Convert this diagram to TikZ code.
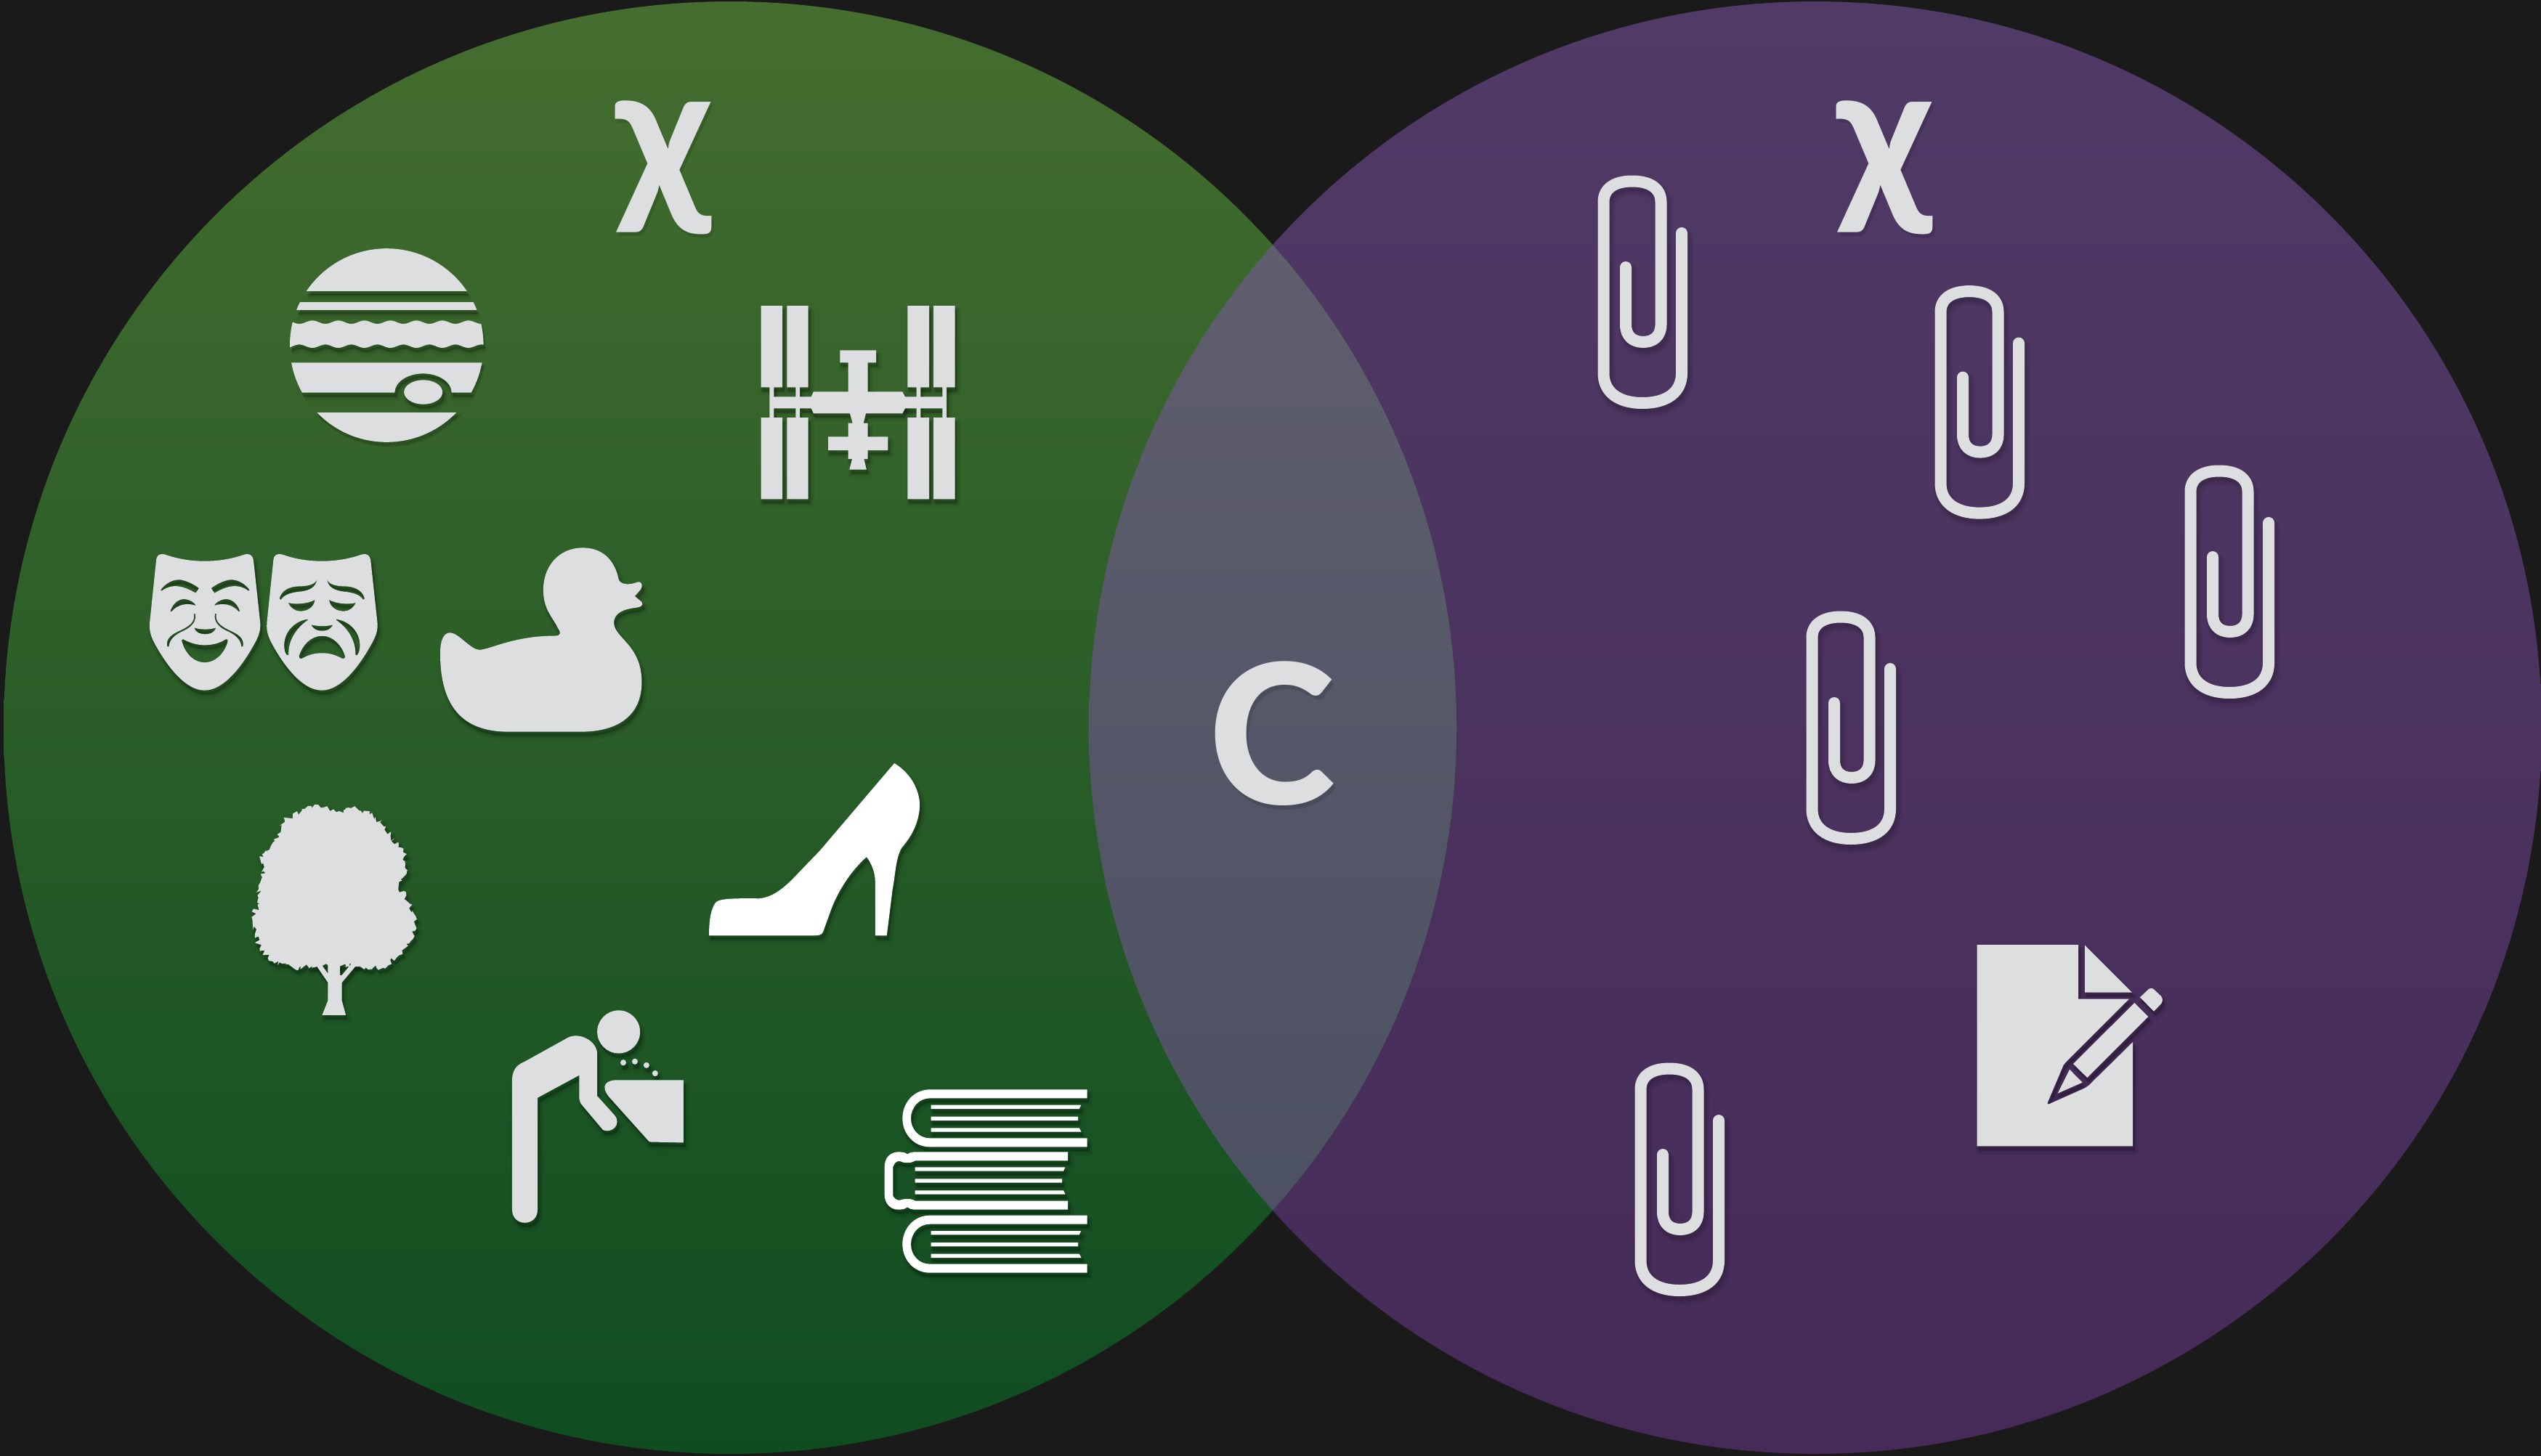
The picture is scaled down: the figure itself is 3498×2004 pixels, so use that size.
\documentclass[tikz,border=0pt]{standalone}
\usepackage{fontspec}
\newfontfamily\carlito{Carlito}
\usetikzlibrary{decorations.pathmorphing}
\definecolor{bgc}{HTML}{1A1A1A}
\definecolor{gtop}{HTML}{456D2F}
\definecolor{gbot}{HTML}{0F4D21}
\definecolor{ptop}{HTML}{503A66}
\definecolor{pbot}{HTML}{462B58}
\definecolor{ltop}{HTML}{636170}
\definecolor{lbot}{HTML}{484E60}
\definecolor{iconc}{HTML}{DCDEE0}
\tikzset{
  inkfill/.style={fill=iconc},
  inkline/.style={draw=iconc,line width=8pt},
  clipline/.style={inkline,line cap=round,line join=round},
  bigtext/.style={inner sep=0pt,text=iconc,xscale=1.07,font=\carlito\bfseries\fontsize{140}{140}\selectfont},
  bigcee/.style={inner sep=0pt,text=iconc,xscale=1.09,font=\carlito\bfseries\fontsize{150}{150}\selectfont},
}
\newcommand\iconshape[2][iconc]{%
  \begin{scope}[shift={(3,7)},
    inkfill/.style={fill=black,draw=black,opacity=.045,line width=5pt,line join=round},
    inkline/.style={draw=black,opacity=.045,line width=13pt}]#2\end{scope}%
  \begin{scope}[shift={(3,6)},
    inkfill/.style={fill=black,draw=black,opacity=.06,line width=3pt,line join=round},
    inkline/.style={draw=black,opacity=.06,line width=11pt}]#2\end{scope}%
  \begin{scope}[shift={(2,5)},
    inkfill/.style={fill=black,draw=black,opacity=.09,line width=1.2pt,line join=round},
    inkline/.style={draw=black,opacity=.09,line width=9pt}]#2\end{scope}%
  \begin{scope}[inkfill/.style={fill=#1},inkline/.style={draw=#1,line width=8pt}]#2\end{scope}%
}
\newcommand\paperclip[1]{%
  \iconshape{\begin{scope}[shift={#1}]
    \path[clipline] (38,126) -- (38,205) .. controls (38,221) and (48,229) .. (62,229)
      .. controls (76,229) and (86.5,221) .. (86.5,205) -- (86.5,36)
      .. controls (86.5,18) and (72,7.5) .. (47,7.5) .. controls (22,7.5) and (7.5,18) .. (7.5,36)
      -- (7.5,272) .. controls (7.5,298) and (28,313) .. (61,313)
      .. controls (95,313) and (115,298) .. (115,272) -- (115,79);
  \end{scope}}%
}
\newcommand\maskoutline{(105,125) .. controls (105,105) and (120,95) .. (140,100)
  .. controls (195,120) and (250,128) .. (305,128) .. controls (360,128) and (415,120) .. (472,100)
  .. controls (490,95) and (505,105) .. (507,125) -- (535,385)
  .. controls (537,420) and (525,445) .. (505,480) .. controls (460,560) and (385,662) .. (305,662)
  .. controls (225,662) and (150,560) .. (105,480) .. controls (85,445) and (76,420) .. (78,385) -- cycle}
\newcommand\bookpages{(305,215) -- (925,215) -- (917,231) -- (305,231) -- cycle
  (305,263) -- (912,263) -- (912,279) -- (305,279) -- cycle
  (305,310) -- (917,310) -- (926,326) -- (305,326) -- cycle}
\newcommand\bookcover{(950,151) -- (300,151) .. controls (235,151) and (187,205) .. (187,270)
  .. controls (187,335) and (235,388) .. (300,388) -- (950,388) -- (950,352) -- (300,352)
  .. controls (255,352) and (222,315) .. (222,270) .. controls (222,225) and (255,187) .. (300,187)
  -- (950,187) -- cycle}
\begin{document}
\begin{tikzpicture}[x=.5pt,y=-.5pt]
\useasboundingbox (0,0) rectangle (3498,2004);
\fill[bgc] (-6,-6) rectangle (3504,2010);
% discs
\shade[top color=ptop,bottom color=pbot] (2499,1002) circle [radius=1000];
\shade[top color=gtop,bottom color=gbot] (1005,1002) circle [radius=1000];
\begin{scope}
  \clip (1005,1002) circle [radius=1000];
  \shade[top color=ltop,bottom color=lbot] (2499,1002) circle [radius=1000];
\end{scope}
% chi and C
\node[bigtext,text=black,opacity=.12] at (918,236) {χ};
\node[bigtext] (chileft) at (915,231) {χ};
\node[bigtext,text=black,opacity=.12] at (2599,236) {χ};
\node[bigtext] (chiright) at (2596,231) {χ};
\node[bigcee,text=black,opacity=.12] at (1756,1016) {C};
\node[bigcee] (cee) at (1753,1010) {C};
% planet
\iconshape{\begin{scope}
  \clip (532.3,475.5) circle [radius=133.3];
  \path[inkfill] (380,330) rectangle (690,401.3);
  \path[inkfill] (380,415.7) rectangle (690,426.7);
  \path[inkfill] plot[domain=390:675,samples=120] (\x,{443.7-2.3*cos((\x-430)/35.8*360)})
     -- plot[domain=675:390,samples=120] (\x,{476.7+2.3*cos((\x-430)/35.8*360)}) -- cycle;
  \path[inkfill] (380,499.3) -- (690,499.3) -- (690,540.7) -- (621.7,540.7)
     arc [start angle=0,end angle=-180,x radius=39.2,y radius=26.3] -- (380,540.7) -- cycle;
  \path[inkfill] (582.7,540) ellipse [x radius=26.5,y radius=16.7];
  \path[inkfill] (380,568.3) rectangle (690,620);
\end{scope}}
% space station
\iconshape{\begin{scope}[shift={(1020,400)},scale=.33333]
  \path[inkfill] (83,63) rectangle (171,400) (190,63) rectangle (278,400)
    (688,63) rectangle (777,400) (795,63) rectangle (884,400)
    (83,525) rectangle (171,862) (190,525) rectangle (278,862)
    (688,525) rectangle (777,862) (795,525) rectangle (884,862);
  \path[inkfill] (118,395) rectangle (136,530) (226,395) rectangle (243,530)
    (725,395) rectangle (742,530) (832,395) rectangle (849,530) (118,439) rectangle (849,487);
  \path[inkfill] (290,439) -- (300,418) -- (443,418) -- (443,298) -- (409,298) -- (409,247)
    -- (558,247) -- (558,298) -- (524,298) -- (524,418) -- (667,418) -- (678,439) -- (678,487)
    -- (667,508) -- (516,508) -- (506,548) -- (524,548) -- (524,604) -- (607,604) -- (607,660)
    -- (524,660) -- (524,696) -- (508,696) -- (519,740) -- (448,740) -- (459,696) -- (443,696)
    -- (443,660) -- (360,660) -- (360,604) -- (443,604) -- (443,548) -- (461,548) -- (450,508)
    -- (300,508) -- (290,487) -- cycle;
\end{scope}}
% masks
\iconshape{\begin{scope}[shift={(180,730)},scale=.33333]
  \path[inkfill,even odd rule] \maskoutline
   (123,247) .. controls (145,218) and (175,203) .. (205,205) .. controls (235,210) and (262,225) .. (282,240) -- (268,260) .. controls (225,235) and (175,215) .. (128,251) -- cycle
   (491,247) .. controls (469,218) and (439,203) .. (409,205) .. controls (379,210) and (352,225) .. (332,240) -- (346,260) .. controls (389,235) and (439,215) .. (486,251) -- cycle
   (163,335) .. controls (175,300) and (200,283) .. (225,285) .. controls (245,288) and (262,298) .. (270,312) .. controls (235,300) and (195,305) .. (168,337) -- cycle
   (451,335) .. controls (439,300) and (414,283) .. (389,285) .. controls (369,288) and (352,298) .. (344,312) .. controls (379,300) and (419,305) .. (446,337) -- cycle
   (260,345) .. controls (268,375) and (245,395) .. (210,412) .. controls (170,430) and (145,445) .. (150,480) -- (157,482) .. controls (160,450) and (185,430) .. (220,415) .. controls (255,398) and (272,375) .. (266,345) -- cycle
   (354,345) .. controls (346,375) and (369,395) .. (404,412) .. controls (444,430) and (469,445) .. (464,480) -- (457,482) .. controls (454,450) and (429,430) .. (394,415) .. controls (359,398) and (342,375) .. (348,345) -- cycle
   (262,403) .. controls (285,412) and (330,412) .. (352,403) .. controls (345,425) and (325,430) .. (307,430) .. controls (289,430) and (269,425) .. (262,403) -- cycle
   (210,455) .. controls (212,448) and (218,450) .. (225,455) .. controls (250,468) and (280,475) .. (305,475) .. controls (335,475) and (365,468) .. (388,453) .. controls (398,447) and (403,452) .. (400,462) .. controls (385,515) and (345,547) .. (305,547) .. controls (265,547) and (225,515) .. (210,455) -- cycle;
\end{scope}}
\iconshape{\begin{scope}[shift={(341.3,730)},scale=.33333]
  \path[inkfill,even odd rule] \maskoutline
   (284,203) .. controls (282,222) and (250,232) .. (215,232) .. controls (170,232) and (138,250) .. (130,283) -- (136,288) .. controls (150,265) and (180,258) .. (215,254) .. controls (255,250) and (282,235) .. (285,203) -- cycle
   (328,203) .. controls (330,222) and (362,232) .. (397,232) .. controls (442,232) and (474,250) .. (482,283) -- (476,288) .. controls (462,265) and (432,258) .. (397,254) .. controls (357,250) and (330,235) .. (327,203) -- cycle
   (166,300) .. controls (195,308) and (245,305) .. (277,288) .. controls (272,320) and (245,335) .. (215,335) .. controls (195,335) and (175,320) .. (166,300) -- cycle
   (446,300) .. controls (417,308) and (367,305) .. (335,288) .. controls (340,320) and (367,335) .. (397,335) .. controls (417,335) and (437,320) .. (446,300) -- cycle
   (247,368) .. controls (195,375) and (145,420) .. (150,485) .. controls (152,505) and (158,518) .. (165,517) -- (168,515) .. controls (165,470) and (190,410) .. (247,372) -- cycle
   (365,368) .. controls (417,375) and (467,420) .. (462,485) .. controls (460,505) and (454,518) .. (447,517) -- (444,515) .. controls (447,470) and (422,410) .. (365,372) -- cycle
   (261,391) .. controls (285,398) and (330,398) .. (351,391) .. controls (340,412) and (325,416) .. (306,416) .. controls (288,416) and (272,412) .. (261,391) -- cycle
   (306,437) .. controls (260,437) and (225,475) .. (211,520) .. controls (210,532) and (220,533) .. (228,528) .. controls (255,513) and (280,508) .. (306,508) .. controls (332,508) and (357,513) .. (384,528) .. controls (392,533) and (403,532) .. (401,520) .. controls (387,475) and (352,437) .. (306,437) -- cycle;
\end{scope}}
% duck
\iconshape{\begin{scope}[shift={(150,100)},xscale=.7972,yscale=.6059]
  \path[inkfill] (572,1320) .. controls (572,1290) and (578,1272) .. (590,1273)
   .. controls (605,1275) and (625,1312) .. (640,1312) .. controls (660,1310) and (700,1280) .. (770,1280)
   .. controls (782,1280) and (780,1272) .. (775,1262) .. controls (765,1235) and (750,1220) .. (750,1175)
   .. controls (750,1125) and (775,1080) .. (818,1080) .. controls (860,1080) and (875,1120) .. (880,1150)
   .. controls (882,1165) and (900,1165) .. (912,1158) .. controls (920,1155) and (923,1165) .. (918,1175)
   -- (908,1190) -- (920,1203) .. controls (924,1212) and (918,1215) .. (905,1217)
   .. controls (880,1222) and (872,1235) .. (872,1250) .. controls (872,1285) and (920,1300) .. (920,1385)
   .. controls (920,1460) and (880,1498) .. (815,1498) -- (690,1498)
   .. controls (610,1498) and (572,1440) .. (572,1320) -- cycle;
\end{scope}}
% tree
\iconshape{\begin{scope}[shift={(300,1000)},xscale=.7972,yscale=.5102]
  \pgfmathsetseed{7}
  \path[inkfill,decorate,decoration={random steps,segment length=1.6pt,amplitude=2pt}]
    (170,212) -- (205,232) -- (240,222) -- (272,245) -- (298,295) -- (320,340) -- (328,390) -- (312,430)
    -- (332,480) -- (343,520) -- (333,580) -- (310,622) -- (285,652) -- (235,648) -- (190,645)
    -- (140,652) -- (95,635) -- (72,600) -- (64,560) -- (58,515) -- (72,480) -- (70,430)
    -- (80,380) -- (76,345) -- (105,300) -- (115,252) -- (145,228) -- cycle;
  \path[inkfill] (165,635) -- (190,692) -- (190,740) -- (180,780) -- (221,780) -- (214,740) -- (214,692)
    -- (242,640) -- (231,640) -- (214,672) -- (211,672) -- (211,635) -- (190,635) -- (190,668) -- (175,635) -- cycle;
\end{scope}}
% shoe
\iconshape[white]{\begin{scope}[shift={(300,1000)},xscale=.7972,yscale=.5102]
  \path[inkfill] (848,565) .. controls (848,520) and (852,490) .. (860,475)
   .. controls (868,463) and (905,465) .. (935,465) .. controls (960,462) and (982,430) .. (1000,400)
   -- (1040,335) -- (1168,100) .. controls (1195,125) and (1212,170) .. (1212,215)
   .. controls (1210,275) and (1190,310) .. (1180,330) .. controls (1170,360) and (1170,400) .. (1165,440)
   -- (1155,565) -- (1135,565) -- (1135,420) .. controls (1135,395) and (1128,368) .. (1120,353)
   .. controls (1090,395) and (1070,450) .. (1060,490) -- (1045,555)
   .. controls (1043,563) and (1038,565) .. (1030,565) -- cycle;
\end{scope}}
% drinking person
\iconshape{\begin{scope}[shift={(300,1000)},xscale=.7972,yscale=.5102]
  \path[inkfill] (692,825) ellipse [x radius=37,y radius=58];
  \path[inkfill] (508,1305) -- (508,950) .. controls (510,920) and (520,912) .. (530,905) -- (605,840)
   .. controls (625,825) and (655,850) .. (655,885) -- (655,998) -- (685,1050)
   .. controls (698,1075) and (680,1100) .. (665,1090) -- (630,1025) .. controls (626,1018) and (624,1012) .. (624,1005)
   -- (624,942) -- (552,1003) -- (552,1305) .. controls (552,1352) and (508,1352) .. (508,1305) -- cycle;
  \path[inkfill] (700,908) ellipse [x radius=5,y radius=8] (720,905) ellipse [x radius=5,y radius=8]
    (740,915) ellipse [x radius=5,y radius=8] (755,937) ellipse [x radius=5,y radius=8];
  \path[inkfill] (690,955) -- (804,955) -- (804,1124) -- (745,1122) -- (675,1000)
   .. controls (660,970) and (670,955) .. (690,955) -- cycle;
\end{scope}}
% books
\iconshape[white]{\begin{scope}[shift={(1180,1450)},scale=.33333]
  \path[inkfill] \bookcover \bookpages;
  \path[inkfill] (870,409) -- (235,409) .. controls (225,409) and (215,412) .. (207,418)
   .. controls (200,412) and (190,409) .. (170,409) .. controls (135,409) and (113,435) .. (113,470)
   -- (113,585) .. controls (113,620) and (135,647) .. (170,647) .. controls (190,647) and (200,643) .. (207,637)
   .. controls (215,643) and (225,647) .. (235,647) -- (870,647) -- (870,611) -- (240,611)
   .. controls (228,603) and (210,601) .. (190,604) .. controls (175,610) and (160,612) .. (148,590)
   -- (148,470) .. controls (160,440) and (175,445) .. (190,452) .. controls (210,456) and (228,453) .. (240,445)
   -- (870,445) -- cycle
   (239,472) -- (859,472) -- (852,488) -- (239,488) -- cycle
   (239,520) -- (846,520) -- (846,536) -- (239,536) -- cycle
   (239,568) -- (852,568) -- (860,584) -- (239,584) -- cycle;
\end{scope}
\begin{scope}[shift={(1180,1623.33)},scale=.33333]
  \path[inkfill] \bookcover \bookpages;
\end{scope}}
% paper clips
\paperclip{(2200,242)}
\paperclip{(2664,393.6)}
\paperclip{(3008,641)}
\paperclip{(2487,842)}
\paperclip{(2251,1464)}
% note and pencil
\iconshape{\begin{scope}[shift={(2650,1250)},scale=.33333]
  \path[inkfill] (215,153) -- (633,153) -- (633,377) -- (843,377) -- (585,635)
    .. controls (578,642) and (575,645) .. (572,650) -- (505,808) -- (510,812) -- (660,745)
    .. controls (666,742) and (670,740) .. (675,735) -- (858,555) -- (858,985) -- (215,985) -- cycle;
  \path[inkfill] (660,155) -- (855,350) -- (660,350) -- cycle;
  \path[inkfill] (865,393) -- (922,450) -- (670,702) -- (612,645) -- cycle;
  \path[inkfill] (597,668) -- (650,722) -- (548,767) -- cycle;
  \path[inkfill] (888,370) -- (925,335) .. controls (935,330) and (945,335) .. (945,337) -- (975,365)
    .. controls (985,378) and (980,390) .. (975,397) -- (945,428) -- cycle;
\end{scope}}
\end{tikzpicture}
\end{document}
